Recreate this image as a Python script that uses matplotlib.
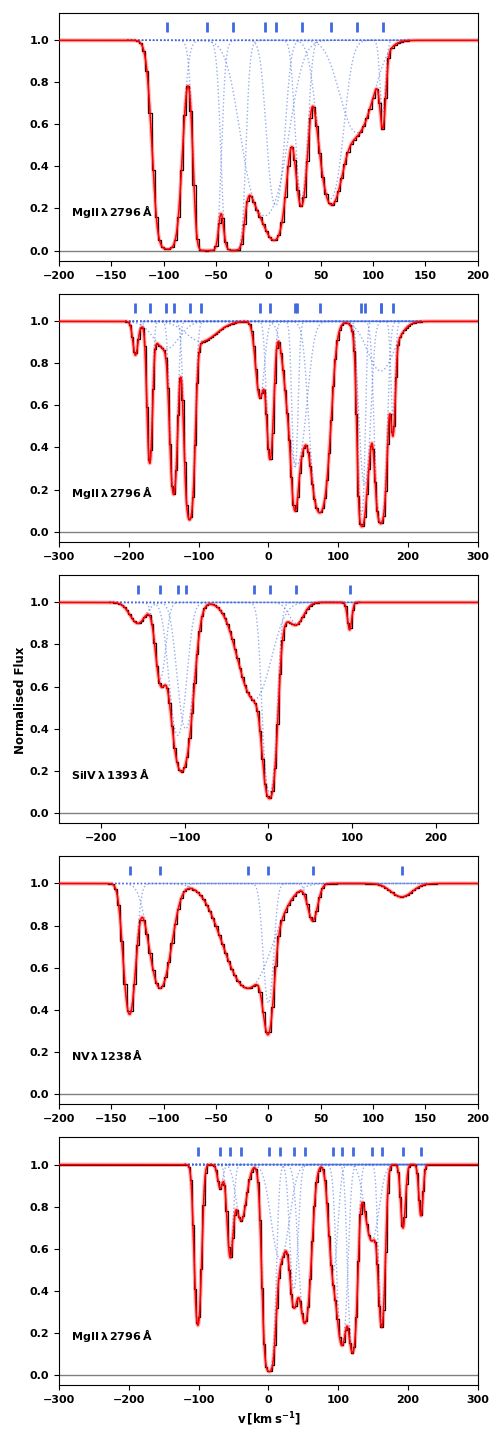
import numpy as np
import matplotlib.pyplot as plt

plt.rcParams['font.family'] = 'DejaVu Sans'
plt.rcParams['font.weight'] = 'bold'
plt.rcParams['mathtext.default'] = 'bf'
plt.rcParams['axes.labelweight'] = 'bold'

# Voigt-style component fits per panel: centre v [km/s], b [km/s], central optical depth
mg_a_v = [-96.5, -58.5, -33.5, -3.6, 6.9, 31.7, 59.4, 84.5, 109.3]
mg_a_b = [10.5, 8.5, 8.0, 22.0, 9.0, 6.5, 13.0, 20.0, 3.5]
mg_a_tau = [5.0, 10.0, 7.0, 1.8, 1.54, 1.4, 1.4, 0.58, 0.42]

mg_b_v = [-190.5, -170.0, -146.2, -135.7, -112.9, -96.2, -12.0, 2.5, 38.1, 40.5,
          73.8, 133.3, 138.1, 161.0, 161.0, 178.6]
mg_b_b = [5.0, 4.5, 25.0, 6.0, 7.0, 30.0, 8.0, 6.0, 5.0, 16.0,
          14.0, 5.0, 9.0, 8.0, 25.0, 4.0]
mg_b_tau = [0.17, 1.07, 0.14, 1.6, 2.8, 0.1, 0.45, 1.05, 1.2, 1.15,
            2.4, 2.5, 1.5, 3.0, 0.27, 0.6]

si_v = [-155.9, -128.8, -108.2, -98.6, -16.7, 1.6, 33.4, 97.0]
si_b = [13.0, 8.0, 12.0, 12.0, 24.4, 8.5, 12.0, 3.5]
si_tau = [0.105, 0.45, 1.0, 0.92, 0.62, 2.35, 0.105, 0.14]

nv_v = [-132.6, -103.3, -19.8, 0.0, 42.4, 127.2]
nv_b = [7.0, 13.2, 28.6, 6.0, 6.3, 14.0]
nv_tau = [0.97, 0.69, 0.69, 0.84, 0.19, 0.066]

mg_c_v = [-101.0, -69.0, -54.8, -39.0, 1.0, 17.0, 36.5, 52.4, 92.9, 105.7,
          120.8, 148.1, 162.5, 192.9, 218.6]
mg_c_b = [5.8, 5.0, 5.7, 10.0, 8.0, 16.0, 7.0, 10.0, 8.0, 8.0,
          7.0, 13.0, 5.5, 4.5, 4.0]
mg_c_tau = [1.45, 0.12, 0.56, 0.31, 4.0, 0.6, 0.9, 1.4, 0.7, 1.9,
            2.2, 0.45, 1.35, 0.36, 0.28]

labels = [r'$MgII\,\lambda\,2796\,\AA$', r'$MgII\,\lambda\,2796\,\AA$',
          r'$SiIV\,\lambda\,1393\,\AA$', r'$NV\,\lambda\,1238\,\AA$',
          r'$MgII\,\lambda\,2796\,\AA$']
xlims = [(-200, 200), (-300, 300), (-250, 250), (-200, 200), (-300, 300)]
xtick_step = [50, 100, 100, 50, 100]
fit_windows = [(-135, 135), (-205, 220), (-190, 110), (-150, 152), (-120, 228)]
pix = 3.0  # km/s per spectral pixel

panels = [(mg_a_v, mg_a_b, mg_a_tau), (mg_b_v, mg_b_b, mg_b_tau),
          (si_v, si_b, si_tau), (nv_v, nv_b, nv_tau), (mg_c_v, mg_c_b, mg_c_tau)]


def component(v, v0, b, tau0):
    return tau0 * np.exp(-((v - v0) / b) ** 2)


def total_tau(v, vs, bs, taus):
    tau = np.zeros_like(v)
    for v0, b, t0 in zip(vs, bs, taus):
        tau += component(v, v0, b, t0)
    return tau


fig, axes = plt.subplots(5, 1, figsize=(5.04, 14.4), dpi=100)
fig.subplots_adjust(left=0.117, right=0.948, top=0.991, bottom=0.038, hspace=0.133)

for ax, (vs, bs, taus), lab, xl, step, win in zip(axes, panels, labels, xlims,
                                                  xtick_step, fit_windows):
    v = np.linspace(xl[0], xl[1], 3000)
    model = np.exp(-total_tau(v, vs, bs, taus))

    # individual components (dotted)
    vw = v[(v >= win[0]) & (v <= win[1])]
    for v0, b, t0 in zip(vs, bs, taus):
        ax.plot(vw, np.exp(-component(vw, v0, b, t0)), ls=':', color='royalblue',
                lw=1.0, alpha=0.55, zorder=2)

    ax.axhline(0, color='gray', lw=1, zorder=1)

    # pixelised spectrum
    vp = np.arange(xl[0], xl[1] + pix, pix)
    flux = np.exp(-total_tau(vp, vs, bs, taus))
    ax.plot(vp, flux, drawstyle='steps-mid', color='black', lw=0.9, zorder=3)

    ax.plot(v, model, color='red', lw=3, alpha=0.25, zorder=4)
    ax.plot(v, model, color='red', lw=1.1, zorder=5)

    ax.vlines(vs, 1.04, 1.085, color='royalblue', lw=2, zorder=6)

    ax.set_xlim(xl)
    ax.set_ylim(-0.05, 1.13)
    t0 = np.ceil(xl[0] / step) * step
    ax.set_xticks(np.arange(t0, xl[1] + 1, step))
    ax.set_yticks([0.0, 0.2, 0.4, 0.6, 0.8, 1.0])
    ax.tick_params(labelsize=8)
    ax.text(0.028, 0.2, lab, transform=ax.transAxes, fontsize=8, va='center')

axes[-1].set_xlabel(r'$v\,[km\,s^{-1}]$', fontsize=8.5)
fig.text(0.04, 0.514, 'Normalised Flux', rotation=90, va='center', ha='center',
         fontsize=8.5, fontweight='bold')

fig.savefig('out.png', dpi=100)
plt.close()
